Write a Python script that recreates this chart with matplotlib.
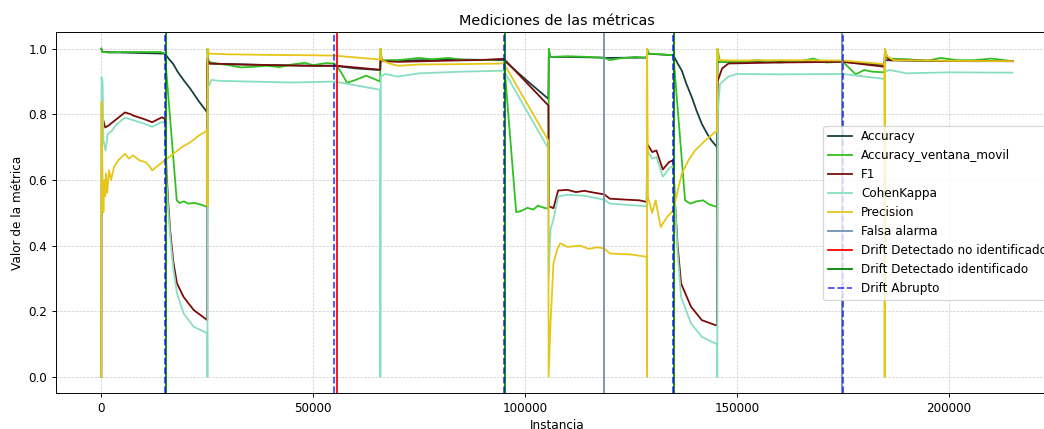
import matplotlib as mpl
import matplotlib.pyplot as plt

## values
acc_x = [0, 300, 15000, 16000, 17000, 18000, 19500, 21000, 23000, 25000,
         25050, 30000, 40000, 50000, 55000, 60000, 65800,
         65900, 66500, 75000, 85000, 95000, 99880, 105500,
         105600, 110000, 118000, 119000, 128700, 128800, 135000,
         136000, 137000, 138000, 139350, 140500, 141700, 143000, 144000, 145300,
         145400, 150000, 165000, 175000, 180000, 184800,
         184900, 195000, 205000, 215000]
acc_y = [1.0, 0.99, 0.985, 0.968, 0.953, 0.93, 0.903, 0.878, 0.84, 0.806,
         0.955, 0.953, 0.95, 0.948, 0.948, 0.94, 0.935,
         0.965, 0.963, 0.965, 0.967, 0.965, 0.909, 0.847,
         0.975, 0.975, 0.973, 0.972, 0.973, 0.985, 0.98,
         0.955, 0.933, 0.895, 0.852, 0.81, 0.771, 0.74, 0.72, 0.70,
         0.96, 0.96, 0.962, 0.96, 0.955, 0.95,
         0.965, 0.963, 0.962, 0.962]

accvm_x = [0, 300, 2000, 5000, 10000, 14000, 15000, 17800, 18500, 19500, 20500,
           22000, 23500, 25000, 25050, 25300, 27000, 30000, 33000, 36000, 39000,
           42000, 45000, 48000, 50000, 53000, 55000, 56500, 58000, 60000, 62500,
           64000, 65800, 65900, 66200, 70000, 75000, 78000, 82000, 86000, 90000,
           95000, 97900, 99000, 100500, 102000, 103000, 104500, 105500, 105600,
           106000, 110000, 115000, 118700, 120000, 122000, 126000, 128700, 128800,
           129200, 132000, 135000, 137750, 139000, 140500, 142000, 143500, 145300,
           145400, 146000, 150000, 155000, 160000, 165000, 168000, 171000, 175000,
           178000, 180000, 182000, 184800, 184900, 185500, 190000, 195000, 198000,
           202000, 206000, 210000, 215000]
accvm_y = [1.0, 0.99, 0.988, 0.99, 0.99, 0.99, 0.985, 0.538, 0.53, 0.535, 0.528,
           0.53, 0.525, 0.518, 1.0, 0.96, 0.955, 0.95, 0.943, 0.945, 0.948,
           0.944, 0.952, 0.957, 0.95, 0.956, 0.955, 0.93, 0.896, 0.905, 0.918,
           0.91, 0.90, 1.0, 0.965, 0.965, 0.972, 0.968, 0.972, 0.965, 0.965,
           0.968, 0.502, 0.505, 0.515, 0.51, 0.522, 0.515, 0.513, 1.0,
           0.975, 0.977, 0.975, 0.972, 0.965, 0.97, 0.975, 0.972, 1.0,
           0.985, 0.983, 0.98, 0.538, 0.528, 0.535, 0.538, 0.525, 0.518,
           1.0, 0.96, 0.96, 0.965, 0.958, 0.962, 0.97, 0.958, 0.96,
           0.922, 0.935, 0.93, 0.928, 1.0, 0.97, 0.968, 0.963, 0.972,
           0.965, 0.965, 0.97, 0.962]

f1_x = [0, 100, 400, 900, 1700, 3650, 5600, 7000, 7600, 10000, 12000, 14300, 15000,
        15400, 15800, 16240, 17000, 17850, 19400, 21780, 25000,
        25050, 25500, 30000, 40000, 50000, 55700, 65800,
        65900, 66500, 70000, 80000, 90000, 95000, 105500,
        105600, 106700, 107800, 110000, 112000, 114000, 116000, 118700, 120000,
        124000, 127000, 128700, 128800, 130000, 131000, 132500, 134000, 135000,
        135300, 136000, 136800, 139150, 141700, 144850, 145300,
        145400, 146500, 148000, 160000, 175000, 184800,
        184900, 186000, 200000, 215000]
f1_y = [0.0, 0.80, 0.786, 0.76, 0.766, 0.786, 0.806, 0.80, 0.796, 0.786, 0.776, 0.791, 0.786,
        0.62, 0.53, 0.447, 0.35, 0.285, 0.244, 0.204, 0.173,
        0.97, 0.955, 0.953, 0.95, 0.948, 0.948, 0.936,
        0.975, 0.962, 0.96, 0.963, 0.966, 0.969, 0.827,
        0.52, 0.514, 0.568, 0.57, 0.563, 0.567, 0.562, 0.556, 0.543,
        0.54, 0.538, 0.533, 0.71, 0.685, 0.69, 0.632, 0.655, 0.66,
        0.55, 0.40, 0.285, 0.214, 0.173, 0.158, 0.157,
        0.90, 0.94, 0.955, 0.958, 0.96, 0.945,
        0.985, 0.965, 0.963, 0.962]

kappa_x = [0, 50, 300, 500, 1000, 1500, 2500, 3650, 5600, 7600, 10000, 12000, 14300,
           15000, 15400, 15800, 16240, 17000, 17850, 19400, 21780, 25000,
           25050, 25100, 26000, 28000, 35000, 45000, 55000, 65800,
           65850, 65950, 67000, 70000, 75000, 85000, 95000, 105500,
           105550, 106000, 106700, 107800, 110000, 114000, 118700, 120000, 128700,
           128800, 130000, 131000, 132500, 134000, 135000,
           135300, 136000, 136800, 139150, 141700, 144850, 145300,
           145350, 145450, 146000, 148000, 150000, 160000, 175000, 184800,
           184900, 186000, 190000, 200000, 215000]
kappa_y = [0.0, 0.913, 0.90, 0.72, 0.69, 0.74, 0.75, 0.77, 0.79, 0.782, 0.772, 0.762, 0.777,
           0.772, 0.60, 0.51, 0.43, 0.33, 0.255, 0.194, 0.153, 0.133,
           0.0, 0.88, 0.905, 0.902, 0.90, 0.897, 0.90, 0.875,
           0.0, 0.915, 0.923, 0.915, 0.925, 0.93, 0.933, 0.695,
           0.30, 0.45, 0.48, 0.55, 0.555, 0.552, 0.54, 0.528, 0.52,
           0.69, 0.665, 0.67, 0.61, 0.635, 0.645,
           0.55, 0.38, 0.244, 0.163, 0.122, 0.102, 0.10,
           0.0, 0.80, 0.893, 0.915, 0.923, 0.922, 0.923, 0.908,
           0.93, 0.935, 0.925, 0.928, 0.927]

prec_x = [0, 50, 300, 500, 700, 900, 1100, 1400, 1800, 2300, 3000, 4000, 5600,
          6500, 7500, 9000, 10500, 11500, 12000, 13000, 14000, 15000, 17000,
          19000, 21000, 23000, 25000, 25050, 25100, 25400, 30000, 40000, 50000,
          55000, 65800, 65850, 66200, 68000, 70000, 75000, 85000, 95000, 105500,
          105550, 106000, 106700, 107500, 108300, 110000, 113000, 115000, 117000,
          118700, 120000, 125000, 128700, 128750, 128800, 129000, 130000, 130800,
          132000, 133500, 135000, 135300, 136970, 138560, 140100, 142500, 144850, 145300,
          145350, 145700, 150000, 160000, 175000, 184800, 184850, 184900, 185300,
          187000, 200000, 215000]
prec_y = [0.0, 0.837, 0.60, 0.502, 0.60, 0.55, 0.62, 0.56, 0.63, 0.60, 0.64, 0.66, 0.68,
          0.665, 0.675, 0.66, 0.654, 0.64, 0.629, 0.64, 0.65, 0.66, 0.68,
          0.70, 0.715, 0.735, 0.751, 0.52, 1.0, 0.985, 0.983, 0.981, 0.98,
          0.979, 0.967, 1.0, 0.965, 0.955, 0.948, 0.952, 0.953, 0.955, 0.72,
          0.0, 0.164, 0.346, 0.386, 0.407, 0.396, 0.40, 0.39, 0.395,
          0.391, 0.376, 0.373, 0.366, 0.0, 1.0, 0.548, 0.50, 0.538,
          0.457, 0.487, 0.508, 0.528, 0.619, 0.66, 0.69, 0.72, 0.746, 0.748,
          1.0, 0.965, 0.964, 0.965, 0.964, 0.953, 0.0, 1.0, 0.978,
          0.965, 0.963, 0.962]

falsa_alarma = [118700, 174900]
drift_no_identificado = [55700]
drift_identificado = [15250, 95200, 135250]
drift_abrupto = [15000, 55000, 95000, 135000, 175000]


def main():
    mpl.use("Agg")
    plt.rcParams["font.family"] = "DejaVu Sans"

    ## reference looks like a default-sized figure shrunk to ~86 dpi
    dpi = 86
    fig = plt.figure(figsize=(1044 / dpi, 429 / dpi), dpi=dpi)
    ## the reference is cropped on the right, so the axes run past the edge
    ax = fig.add_axes([0.0534, 0.0832, 0.960, 0.8415])

    ax.plot(acc_x, acc_y, color="#173f3f", lw=1.5, label="Accuracy")
    ax.plot(accvm_x, accvm_y, color="#30c020", lw=1.5, label="Accuracy_ventana_movil")
    ax.plot(f1_x, f1_y, color="#7b0a0a", lw=1.5, label="F1")
    ax.plot(kappa_x, kappa_y, color="#88dfbf", lw=1.5, label="CohenKappa")
    ax.plot(prec_x, prec_y, color="#e6c619", lw=1.5, label="Precision")

    for i, x in enumerate(falsa_alarma):
        ax.axvline(x, color="#6f8fb0", lw=1.5, label="Falsa alarma" if i == 0 else None)
    for i, x in enumerate(drift_no_identificado):
        ax.axvline(x, color="red", lw=1.5, label="Drift Detectado no identificado" if i == 0 else None)
    for i, x in enumerate(drift_identificado):
        ax.axvline(x, color="green", lw=1.5, label="Drift Detectado identificado" if i == 0 else None)
    for i, x in enumerate(drift_abrupto):
        ax.axvline(x, color="blue", alpha=0.7, ls="--", lw=1.5, label="Drift Abrupto" if i == 0 else None)

    ax.set_xlim(-10750, 225750)
    ax.set_ylim(-0.05, 1.05)
    ax.grid(True, color="#cccccc", ls="--", lw=0.6)
    ax.set_title("Mediciones de las métricas")
    ax.set_xlabel("Instancia")
    ax.set_ylabel("Valor de la métrica")
    ax.legend(loc="center right")

    fig.savefig("out.png", dpi=dpi)
    plt.close(fig)


if __name__ == '__main__':
    main()
